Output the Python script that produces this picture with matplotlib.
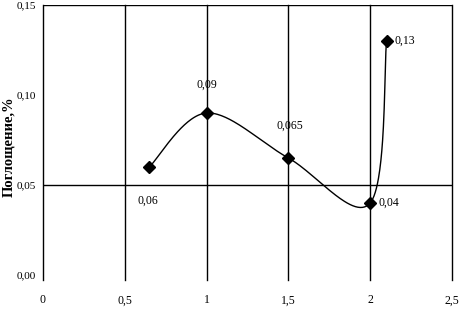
import numpy as np
import matplotlib.pyplot as plt

# данные
x_vals = [0.65, 1.0, 1.5, 2.0, 2.1]
y_vals = [0.06, 0.09, 0.065, 0.04, 0.13]
point_labels = ["0,06", "0,09", "0,065", "0,04", "0,13"]
x_ticks = [0, 0.5, 1, 1.5, 2, 2.5]
x_ticklabels = ["0", "0,5", "1", "1,5", "2", "2,5"]
y_ticks = [0, 0.05, 0.10, 0.15]
y_ticklabels = ["0,00", "0,05", "0,10", "0,15"]

plt.rcParams['font.family'] = ['Liberation Serif', 'DejaVu Serif']

fig = plt.figure(figsize=(4.59, 3.10), dpi=100)
ax = fig.add_axes([43 / 459, 1 - 275 / 310, 409 / 459, 270 / 310])
ax.set_xlim(0, 2.5)
ax.set_ylim(0, 0.15)

# сглаженная кривая (как в Excel) - считаем в пиксельном масштабе
sx, sy = 163.6, 1800.0
P = np.column_stack([np.array(x_vals) * sx, np.array(y_vals) * sy])
n = len(P)
curve = []
t = np.linspace(0, 1, 60)[:, None]
for i in range(n - 1):
    p0 = P[i - 1] if i > 0 else P[i]
    p1, p2 = P[i], P[i + 1]
    p3 = P[i + 2] if i + 2 < n else P[i + 1]
    c1 = p1 + (p2 - p0) / 6
    c2 = p2 - (p3 - p1) / 6
    seg = (1 - t) ** 3 * p1 + 3 * (1 - t) ** 2 * t * c1 + 3 * (1 - t) * t ** 2 * c2 + t ** 3 * p2
    curve.append(seg)
curve = np.vstack(curve)
ax.plot(curve[:, 0] / sx, curve[:, 1] / sy, color='black', lw=1.0)
ax.plot(x_vals, y_vals, linestyle='none', marker='D', markersize=6.5, color='black')

# сетка
for xv in x_ticks:
    ax.plot([xv, xv], [-0.0028, 0.15], color='black', lw=1.0, clip_on=False)
for yv in [0.05, 0.15]:
    ax.axhline(yv, color='black', lw=1.0)

for s in ax.spines.values():
    s.set_visible(False)

ax.set_xticks(x_ticks)
ax.set_xticklabels(x_ticklabels, fontsize=8.5)
ax.set_yticks(y_ticks)
ax.set_yticklabels(y_ticklabels, fontsize=8)
ax.tick_params(length=0, pad=5)
ax.tick_params(axis='x', pad=14)

# подписи точек
offsets = [(-1, -24, 'center'), (0, 20, 'center'), (1, 23, 'center'), (6, 0, 'left'), (6, 0, 'left')]
for xv, yv, lab, (dx, dy, ha) in zip(x_vals, y_vals, point_labels, offsets):
    ax.annotate(lab, (xv, yv), xytext=(dx, dy), textcoords='offset points',
                ha=ha, va='center', fontsize=8.5)

fig.text(9 / 459, 1 - 147 / 310, "Поглощение,%", rotation=90, ha='center', va='center',
         fontsize=10.5, fontweight='bold')

fig.savefig('out.png', dpi=100)
